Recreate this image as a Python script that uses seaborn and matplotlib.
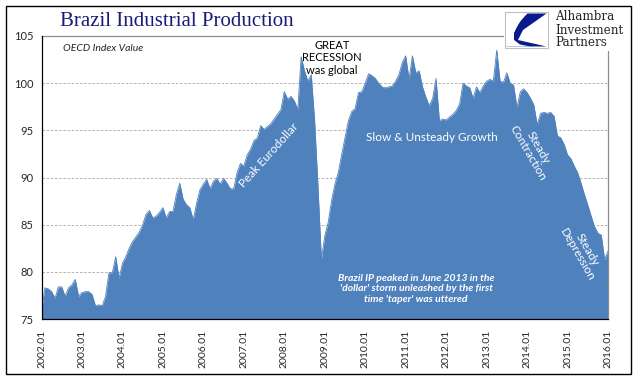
import numpy as np
import pandas as pd
import matplotlib
matplotlib.use("Agg")
import matplotlib.pyplot as plt
import seaborn as sns
from matplotlib.patches import Rectangle, Polygon
from matplotlib.lines import Line2D

# ---- data (OECD index value, monthly 2002.01 .. 2016.01) ----
values = [
    75.8, 78.3, 78.2, 77.9, 77.2, 78.4, 78.4, 77.4, 78.3, 78.6, 79.2, 77.4,   # 2002
    77.8, 77.9, 77.9, 77.6, 76.4, 76.5, 76.4, 77.4, 79.9, 79.9, 81.6, 79.3,   # 2003
    80.9, 81.6, 82.5, 83.2, 83.7, 84.2, 85.0, 86.1, 86.5, 85.7, 85.9, 86.3,   # 2004
    86.8, 85.7, 86.4, 86.4, 88.2, 89.4, 87.7, 87.1, 86.8, 85.5, 87.3, 88.7,   # 2005
    89.3, 89.8, 88.8, 89.6, 89.9, 89.3, 89.9, 89.4, 88.8, 88.8, 90.5, 91.5,   # 2006
    91.2, 92.4, 93.0, 93.9, 94.2, 95.5, 95.1, 95.4, 95.7, 96.2, 96.7, 97.2,   # 2007
    99.1, 98.3, 98.6, 98.1, 97.2, 102.8, 101.3, 100.2, 100.9, 96.0, 89.0, 81.3,  # 2008
    83.8, 85.2, 87.5, 89.3, 90.5, 92.4, 94.2, 96.0, 97.0, 97.3, 99.0, 99.1,   # 2009
    100.0, 101.0, 100.8, 100.5, 100.0, 99.6, 99.5, 99.6, 99.7, 100.2, 100.9, 102.2,  # 2010
    102.9, 100.4, 102.9, 101.1, 101.3, 99.6, 98.5, 97.6, 98.4, 100.5, 96.0, 96.2,  # 2011
    96.1, 96.4, 96.7, 97.1, 97.8, 100.0, 99.7, 99.5, 98.4, 99.6, 99.0, 99.7,  # 2012
    100.2, 100.4, 100.2, 103.5, 100.2, 100.1, 101.1, 100.0, 99.8, 97.4, 99.1, 99.4,  # 2013
    99.0, 98.4, 97.7, 95.6, 96.8, 96.9, 96.8, 96.9, 96.5, 94.4, 94.2, 93.5,   # 2014
    92.4, 92.0, 91.2, 90.5, 89.4, 88.2, 87.1, 85.9, 84.8, 84.1, 83.9, 81.3,   # 2015
    82.2,                                                                     # 2016
]
year_labels = [f"{y}.01" for y in range(2002, 2017)]
y_ticks = [75, 80, 85, 90, 95, 100, 105]
grid_levels = [80, 85, 90, 95, 100]

df = pd.DataFrame({"month": np.arange(len(values)), "value": values})

sns.set_theme(style="white")
plt.rcParams["font.family"] = ["Lato", "DejaVu Sans"]

W, H = 641, 379
fig = plt.figure(figsize=(W / 100, H / 100), dpi=100)
fig.patch.set_facecolor("white")

# axes placed in pixel coords: left 41.5, right 608, top 36, bottom 319
L, R, T, B = 41.5, 608.0, 36.0, 319.0
ax = fig.add_axes([L / W, 1 - B / H, (R - L) / W, (B - T) / H])
ax.set_facecolor("white")

blue = "#4F81BD"
ax.fill_between(df["month"], df["value"], 75, color=blue, lw=0, zorder=2)
sns.lineplot(data=df, x="month", y="value", color=blue, lw=0.6, ax=ax, zorder=2)

ax.set_xlim(0, len(values) - 1)
ax.set_ylim(75, 105)
ax.set_xlabel("")
ax.set_ylabel("")

for g in grid_levels:
    ax.axhline(g, color="#A6A6A6", lw=0.6, ls=(0, (3, 2)), zorder=1)

# spines
for s in ["top", "right"]:
    ax.spines[s].set_visible(False)
ax.spines["left"].set_color("black")
ax.spines["left"].set_linewidth(0.9)
ax.spines["bottom"].set_color("black")
ax.spines["bottom"].set_linewidth(0.9)
ax.spines["left"].set_zorder(4)
ax.spines["bottom"].set_zorder(4)
# partial gray frame (interrupted by logo)
ax.add_line(Line2D([0, (503 - L) / (R - L)], [1, 1], transform=ax.transAxes,
                   color="#8C8C8C", lw=0.9, clip_on=False, zorder=3))
ax.add_line(Line2D([1, 1], [0, 1 - (50.7 - T) / (B - T)], transform=ax.transAxes,
                   color="#8C8C8C", lw=0.9, clip_on=False, zorder=3))

# ticks
ax.set_xticks(np.arange(0, len(values), 12))
ax.set_xticklabels(year_labels, rotation=90, fontsize=7.5, color="#262626")
ax.set_xticks(np.arange(0, len(values)), minor=True)
ax.tick_params(axis="x", which="major", direction="out", length=5, width=0.8,
               color="black", pad=3)
ax.tick_params(axis="x", which="minor", direction="out", length=3, width=0.6,
               color="black")
ax.set_yticks(y_ticks)
ax.set_yticklabels([str(v) for v in y_ticks], fontsize=8, color="#262626")
ax.tick_params(axis="y", which="major", direction="out", length=4, width=0.8,
               color="black", pad=2)

# annotations (data coordinates)
ax.text(6.4, 103.7, "OECD Index Value", fontsize=7.5, style="italic",
        color="#262626", ha="left", va="center")
ax.text(86.1, 102.7, "GREAT\nRECESSION\nwas global", fontsize=8, color="black",
        ha="center", va="center", linespacing=1.15, zorder=5)
ax.text(67.5, 92.4, "Peak Eurodollar", fontsize=8.5, color="white",
        rotation=48, ha="center", va="center", rotation_mode="anchor", zorder=5)
ax.text(115.8, 94.2, "Slow & Unsteady Growth", fontsize=8.5, color="white",
        ha="center", va="center", zorder=5)
ax.text(145.8, 92.9, "Steady\nContraction", fontsize=8.5, color="white",
        rotation=-60, ha="center", va="center", rotation_mode="anchor",
        linespacing=1.0, zorder=5)
ax.text(160.3, 82.1, "Steady\nDepression", fontsize=8.5, color="white",
        rotation=-60, ha="center", va="center", rotation_mode="anchor",
        linespacing=1.0, zorder=5)
ax.text(111.1, 78.2,
        "Brazil IP peaked in June 2013 in the\n'dollar' storm unleashed by the first\ntime 'taper' was uttered",
        fontsize=7.5, color="white", style="italic", weight="bold",
        ha="center", va="center", linespacing=1.25, zorder=5)

# overlay in pixel coordinates for title, logo, border
ov = fig.add_axes([0, 0, 1, 1], zorder=10)
ov.set_xlim(0, W)
ov.set_ylim(H, 0)
ov.axis("off")
ov.patch.set_alpha(0)

ov.text(177, 21, "Brazil Industrial Production", fontsize=15,
        family=["Liberation Serif", "DejaVu Serif"], color="#1C1C78",
        ha="center", va="center")

# logo
ov.add_patch(Rectangle((505, 12), 43, 36, fill=False, ec="#BFBFBF", lw=0.8))
navy = "#0A1A8C"
ov.add_patch(Polygon([(527.5, 13.5), (546.5, 13.5), (523, 30), (518, 40),
                      (546.5, 46.5), (506.5, 46.5), (514, 32), (521, 20)],
                     closed=True, fc=navy, ec="none"))
ov.add_patch(Polygon([(506.5, 46.5), (509, 36), (513, 28), (519, 21), (525, 16),
                      (518, 24), (514, 33), (514, 40), (520, 44.5), (530, 46.5)],
                     closed=True, fc="white", ec="none"))
for i, word in enumerate(["Alhambra", "Investment", "Partners"]):
    ov.text(555, 17 + i * 13, word, fontsize=8.6,
            family=["DejaVu Serif"], color="#262626",
            ha="left", va="center")

# figure border
ov.add_patch(Rectangle((5.5, 5.5), 625.5, 368, fill=False, ec="black", lw=1.0))

fig.savefig("out.png", dpi=100)
